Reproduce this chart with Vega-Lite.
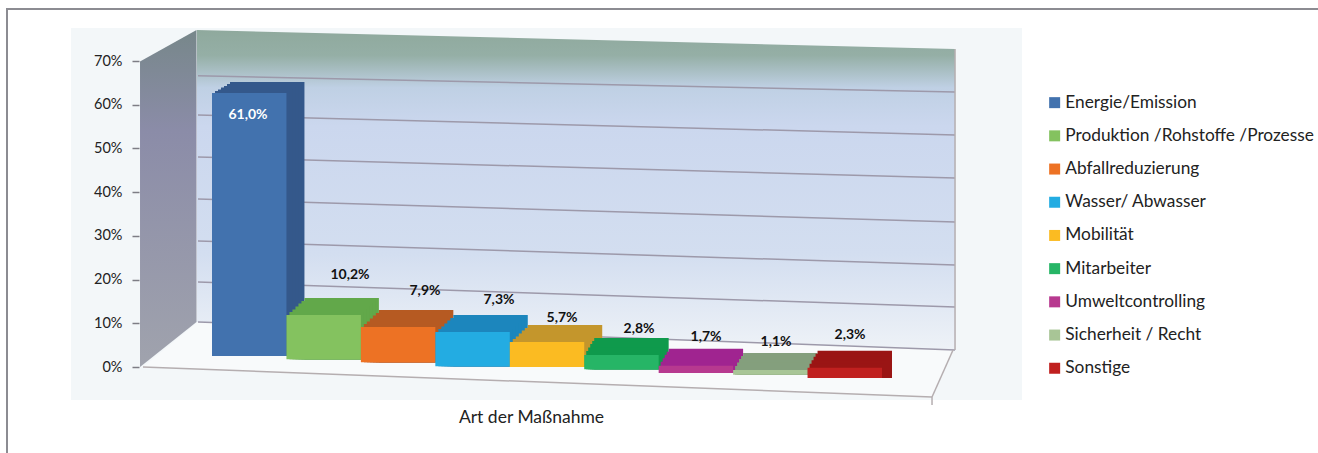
{"$schema":"https://vega.github.io/schema/vega-lite/v6.json","autosize":"none","padding":{"left":7,"top":9,"right":0,"bottom":0},"width":1313,"height":446,"background":"#ffffff","view":{"stroke":"#8c8c92","strokeWidth":2,"fill":"#ffffff"},"config":{"font":"Lato"},
"datasets":{"bars":[
{"category":"Energie/Emission","value":61.0,"label":"61,0%","base":2.5,"top":62.7,"labelBand":0.484,"labelPos":57.65},
{"category":"Produktion /Rohstoffe /Prozesse","value":10.2,"label":"10,2%","base":1.8,"top":11.9,"labelBand":1.854,"labelPos":21.05},
{"category":"Abfallreduzierung","value":7.9,"label":"7,9%","base":1.1,"top":9.15,"labelBand":2.861,"labelPos":17.39},
{"category":"Wasser/ Abwasser","value":7.3,"label":"7,3%","base":0.2,"top":8.0,"labelBand":3.855,"labelPos":15.33},
{"category":"Mobilität","value":5.7,"label":"5,7%","base":0,"top":5.72,"labelBand":4.702,"labelPos":11.21},
{"category":"Mitarbeiter","value":2.8,"label":"2,8%","base":-0.5,"top":2.75,"labelBand":5.736,"labelPos":8.69},
{"category":"Umweltcontrolling","value":1.7,"label":"1,7%","base":-1.4,"top":0.3,"labelBand":6.636,"labelPos":6.86},
{"category":"Sicherheit / Recht","value":1.1,"label":"1,1%","base":-1.8,"top":-0.7,"labelBand":7.577,"labelPos":5.72},
{"category":"Sonstige","value":2.3,"label":"2,3%","base":-2.5,"top":-0.2,"labelBand":8.571,"labelPos":7.32}],
"panel":[{"u":-1.894,"a":77.56,"b":-7.55},{"u":10.881,"a":77.56,"b":-7.55}],
"sidewall":[{"u":-0.967,"a":69.9,"b":0},{"u":-0.208,"a":77.1,"b":10.3}],
"backwall":[{"u":-0.2015,"a":77.1,"b":10.3},{"u":9.981,"a":72.75,"b":3.89}],
"floor":[{"u":-0.927,"a":0,"b":0},{"u":-0.188,"a":10.3,"b":-0.46},{"u":9.672,"a":4.07,"b":-6.86},{"u":9.954,"a":3.89,"b":3.89}],
"grid":[{"u":-0.188,"u2":9.981,"a":66.6,"b":62.9},{"u":-0.188,"u2":9.981,"a":57.65,"b":53.08},{"u":-0.188,"u2":9.981,"a":48.04,"b":43.24},{"u":-0.188,"u2":9.981,"a":38.44,"b":33.17},{"u":-0.188,"u2":9.981,"a":28.83,"b":23.34},{"u":-0.188,"u2":9.981,"a":19.45,"b":13.73},{"u":-0.188,"u2":9.981,"a":10.3,"b":3.89}],
"floorlines":[{"u":-0.927,"u2":9.672,"a":0,"b":-6.86},{"u":9.672,"u2":9.954,"a":-6.86,"b":3.89},{"u":9.672,"u2":9.672,"a":-6.86,"b":-8.7},{"u":9.981,"u2":9.981,"a":72.75,"b":3.89}]},
"layer":[
{"data":{"name":"panel"},"mark":{"type":"area","fill":"#f3f7f9"},"encoding":{"x":{"field":"u","type":"quantitative","axis":null,"scale":{"domain":[0,9],"range":[205,875],"nice":false,"zero":false}},"y":{"field":"a","type":"quantitative","scale":{"domain":[0,70],"range":[358,52],"nice":false,"zero":false},"axis":{"title":null,"values":[0,10,20,30,40,50,60,70],"format":"d","labelExpr":"datum.value + '%'","grid":false,"domain":false,"offset":-132,"tickColor":"#7d7d85","tickSize":7,"tickWidth":1.5,"labelPadding":10,"labelFontSize":14.5,"labelColor":"#222222","labelFont":"Lato","zindex":1}},"y2":{"field":"b"}}},
{"data":{"name":"backwall"},"mark":{"type":"area","fill":{"gradient":"linear","x1":0,"y1":0,"x2":0,"y2":1,"stops":[{"offset":0,"color":"#8fa99d"},{"offset":0.08,"color":"#95afa6"},{"offset":0.18,"color":"#bfd0e4"},{"offset":0.3,"color":"#cbd7ee"},{"offset":0.7,"color":"#d3def0"},{"offset":1,"color":"#eef2f7"}]}},"encoding":{"x":{"field":"u","type":"quantitative","axis":null,"scale":{"domain":[0,9],"range":[205,875],"nice":false,"zero":false}},"y":{"field":"a","type":"quantitative"},"y2":{"field":"b"}}},
{"data":{"name":"sidewall"},"mark":{"type":"area","fill":{"gradient":"linear","x1":0,"y1":0,"x2":0,"y2":1,"stops":[{"offset":0,"color":"#77878a"},{"offset":0.3,"color":"#8b8ca8"},{"offset":1,"color":"#a0a3ad"}]}},"encoding":{"x":{"field":"u","type":"quantitative","axis":null,"scale":{"domain":[0,9],"range":[205,875],"nice":false,"zero":false}},"y":{"field":"a","type":"quantitative"},"y2":{"field":"b"}}},
{"data":{"name":"floor"},"mark":{"type":"area","fill":"#f8fafb"},"encoding":{"x":{"field":"u","type":"quantitative","axis":null,"scale":{"domain":[0,9],"range":[205,875],"nice":false,"zero":false}},"y":{"field":"a","type":"quantitative"},"y2":{"field":"b"}}},
{"data":{"name":"grid"},"mark":{"type":"rule","stroke":"#9d99aa","strokeWidth":1.5},"encoding":{"x":{"field":"u","type":"quantitative","axis":null,"scale":{"domain":[0,9],"range":[205,875],"nice":false,"zero":false}},"x2":{"field":"u2"},"y":{"field":"a","type":"quantitative"},"y2":{"field":"b"}}},
{"data":{"name":"floorlines"},"mark":{"type":"rule","stroke":"#b5aeb0","strokeWidth":1.5},"encoding":{"x":{"field":"u","type":"quantitative","axis":null,"scale":{"domain":[0,9],"range":[205,875],"nice":false,"zero":false}},"x2":{"field":"u2"},"y":{"field":"a","type":"quantitative"},"y2":{"field":"b"}}},
{"data":{"name":"bars"},"transform":[{"filter":"datum.value > 50"}],"encoding":{"x":{"field":"category","type":"nominal","axis":null,"scale":{"domain":["Energie/Emission","Produktion /Rohstoffe /Prozesse","Abfallreduzierung","Wasser/ Abwasser","Mobilität","Mitarbeiter","Umweltcontrolling","Sicherheit / Recht","Sonstige"],"range":[205,875],"paddingInner":0,"paddingOuter":0}},"y":{"field":"top","type":"quantitative"},"y2":{"field":"base"}},
"layer":[{"mark":{"type":"bar","color":"#34588b","xOffset":18,"yOffset":-11}},{"mark":{"type":"bar","color":"#34588b","xOffset":15,"yOffset":-9}},{"mark":{"type":"bar","color":"#34588b","xOffset":12,"yOffset":-7}},{"mark":{"type":"bar","color":"#34588b","xOffset":9,"yOffset":-5.5}},{"mark":{"type":"bar","color":"#34588b","xOffset":6,"yOffset":-3.5}},{"mark":{"type":"bar","color":"#34588b","xOffset":3,"yOffset":-2}}]},
{"data":{"name":"bars"},"transform":[{"filter":"datum.value < 50 && datum.value > 5"}],"encoding":{"x":{"field":"category","type":"nominal","axis":null,"scale":{"domain":["Energie/Emission","Produktion /Rohstoffe /Prozesse","Abfallreduzierung","Wasser/ Abwasser","Mobilität","Mitarbeiter","Umweltcontrolling","Sicherheit / Recht","Sonstige"],"range":[205,875],"paddingInner":0,"paddingOuter":0}},"y":{"field":"top","type":"quantitative"},"y2":{"field":"base"},"color":{"field":"category","type":"nominal","legend":null,"scale":{"domain":["Produktion /Rohstoffe /Prozesse","Abfallreduzierung","Wasser/ Abwasser","Mobilität"],"range":["#62a84a","#b65a22","#1c86bd","#c4962c"]}}},
"layer":[{"mark":{"type":"bar","xOffset":18,"yOffset":-17}},{"mark":{"type":"bar","xOffset":15,"yOffset":-14}},{"mark":{"type":"bar","xOffset":12,"yOffset":-11.5}},{"mark":{"type":"bar","xOffset":9,"yOffset":-8.5}},{"mark":{"type":"bar","xOffset":6,"yOffset":-5.5}},{"mark":{"type":"bar","xOffset":3,"yOffset":-3}}]},
{"data":{"name":"bars"},"transform":[{"filter":"datum.value < 5"}],"encoding":{"x":{"field":"category","type":"nominal","axis":null,"scale":{"domain":["Energie/Emission","Produktion /Rohstoffe /Prozesse","Abfallreduzierung","Wasser/ Abwasser","Mobilität","Mitarbeiter","Umweltcontrolling","Sicherheit / Recht","Sonstige"],"range":[205,875],"paddingInner":0,"paddingOuter":0}},"y":{"field":"top","type":"quantitative"},"y2":{"field":"base"},"color":{"field":"category","type":"nominal","legend":null,"scale":{"domain":["Mitarbeiter","Umweltcontrolling","Sicherheit / Recht","Sonstige"],"range":["#0f9a4c","#a02490","#849f7d","#9a1514"]}}},
"layer":[{"mark":{"type":"bar","xOffset":10,"yOffset":-17}},{"mark":{"type":"bar","xOffset":8,"yOffset":-14}},{"mark":{"type":"bar","xOffset":6,"yOffset":-11}},{"mark":{"type":"bar","xOffset":4,"yOffset":-7.5}},{"mark":{"type":"bar","xOffset":2,"yOffset":-4}}]},
{"data":{"name":"bars"},"mark":{"type":"bar"},"encoding":{"x":{"field":"category","type":"nominal","scale":{"domain":["Energie/Emission","Produktion /Rohstoffe /Prozesse","Abfallreduzierung","Wasser/ Abwasser","Mobilität","Mitarbeiter","Umweltcontrolling","Sicherheit / Recht","Sonstige"],"range":[205,875],"paddingInner":0,"paddingOuter":0},"axis":{"title":"Art der Maßnahme","labels":false,"ticks":false,"domain":false,"titleFontSize":17.5,"titleFontWeight":"normal","titleColor":"#222222","titleFont":"Lato","titleX":524,"titleY":-47}},"y":{"field":"top","type":"quantitative"},"y2":{"field":"base"},"color":{"field":"category","type":"nominal","scale":{"domain":["Energie/Emission","Produktion /Rohstoffe /Prozesse","Abfallreduzierung","Wasser/ Abwasser","Mobilität","Mitarbeiter","Umweltcontrolling","Sicherheit / Recht","Sonstige"],"range":["#4272ae","#84c25f","#ed7224","#23ace2","#fbbb22","#26b566","#b7398f","#a8c596","#c0201f"]},"legend":{"title":null,"orient":"none","legendX":1039,"legendY":85,"symbolType":"square","symbolSize":121,"symbolStrokeWidth":0,"labelFontSize":17.3,"labelColor":"#222222","labelFont":"Lato","labelLimit":300,"rowPadding":15.2,"labelOffset":2}}}},
{"data":{"name":"bars"},"mark":{"type":"text","fontWeight":"bold","fontSize":14,"font":"Lato"},"encoding":{"x":{"field":"labelBand","type":"quantitative","axis":null,"scale":{"domain":[0,9],"range":[205,875],"nice":false,"zero":false}},"y":{"field":"labelPos","type":"quantitative"},"text":{"field":"label","type":"nominal"},"color":{"condition":{"test":"datum.value > 50","value":"#ffffff"},"value":"#111111"}}}
],
"resolve":{"scale":{"x":"independent","color":"independent"},"axis":{"x":"independent"}}}
